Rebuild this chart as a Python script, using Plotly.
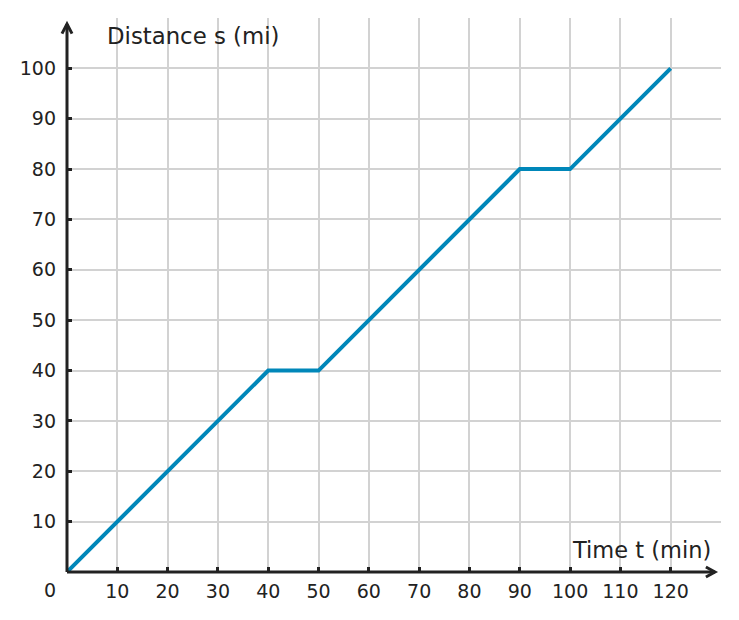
import plotly.graph_objects as go

# Data
time_min = [0, 40, 50, 90, 100, 120]
distance_mi = [0, 40, 40, 80, 80, 100]
x_ticks = [10, 20, 30, 40, 50, 60, 70, 80, 90, 100, 110, 120]
y_ticks = [10, 20, 30, 40, 50, 60, 70, 80, 90, 100]
x_label = "Time t (min)"
y_label = "Distance s (mi)"

TXT = "#222222"
GRID = "#d2d2d2"
FONT = "DejaVu Sans"

X_MAX, Y_MAX = 130, 110
X_TIP, Y_TIP = 128.8, 108.8


def px(v):
    return v / X_MAX


def py(v):
    return v / Y_MAX


fig = go.Figure()
fig.add_trace(go.Scatter(x=time_min, y=distance_mi, mode="lines",
                         line=dict(color="#0087b9", width=4), hoverinfo="skip",
                         cliponaxis=False))

shapes = [
    dict(type="line", xref="paper", yref="paper", x0=px(0), y0=py(0), x1=px(X_TIP), y1=py(0),
         line=dict(color=TXT, width=3), layer="above"),
    dict(type="line", xref="paper", yref="paper", x0=px(0), y0=py(0), x1=px(0), y1=py(Y_TIP),
         line=dict(color=TXT, width=3), layer="above"),
    dict(type="path", xref="paper", yref="paper",
         path=(f"M {px(X_TIP-1.8)},{py(-1.0)} L {px(X_TIP)},{py(0)} "
               f"L {px(X_TIP-1.8)},{py(1.0)}"),
         line=dict(color=TXT, width=3), layer="above"),
    dict(type="path", xref="paper", yref="paper",
         path=(f"M {px(-1.0)},{py(Y_TIP-1.9)} L {px(0)},{py(Y_TIP)} "
               f"L {px(1.0)},{py(Y_TIP-1.9)}"),
         line=dict(color=TXT, width=3), layer="above"),
]

annotations = [
    dict(x=px(7.6), y=py(106.5), xref="paper", yref="paper", text=y_label, showarrow=False,
         xanchor="left", yanchor="middle", font=dict(size=22.8, color=TXT, family=FONT)),
    dict(x=px(128.4), y=py(4.4), xref="paper", yref="paper", text=x_label, showarrow=False,
         xanchor="right", yanchor="middle", font=dict(size=22.5, color=TXT, family=FONT)),
    dict(x=px(-3.4), y=py(-3.6), xref="paper", yref="paper", text="0", showarrow=False,
         xanchor="center", yanchor="middle", font=dict(size=19, color=TXT, family=FONT)),
]

fig.update_layout(
    width=739, height=620,
    margin=dict(l=67, r=18, t=18, b=48),
    paper_bgcolor="white", plot_bgcolor="white",
    showlegend=False,
    shapes=shapes, annotations=annotations,
    font=dict(family=FONT, color=TXT, size=19),
    xaxis=dict(range=[0, X_MAX], tickvals=x_ticks, ticktext=[str(v) for v in x_ticks],
               showgrid=True, gridcolor=GRID, gridwidth=2, zeroline=False,
               showline=False, ticks="inside", ticklen=5, tickwidth=2.5, tickcolor=TXT,
               ticklabelstandoff=6,
               tickfont=dict(size=19, color=TXT, family=FONT), fixedrange=True),
    yaxis=dict(range=[0, Y_MAX], tickvals=y_ticks, ticktext=[str(v) for v in y_ticks],
               showgrid=True, gridcolor=GRID, gridwidth=2, zeroline=False,
               showline=False, ticks="inside", ticklen=5, tickwidth=2.5, tickcolor=TXT,
               ticklabelstandoff=10,
               tickfont=dict(size=19, color=TXT, family=FONT), fixedrange=True),
)

fig.write_html("out.html")
